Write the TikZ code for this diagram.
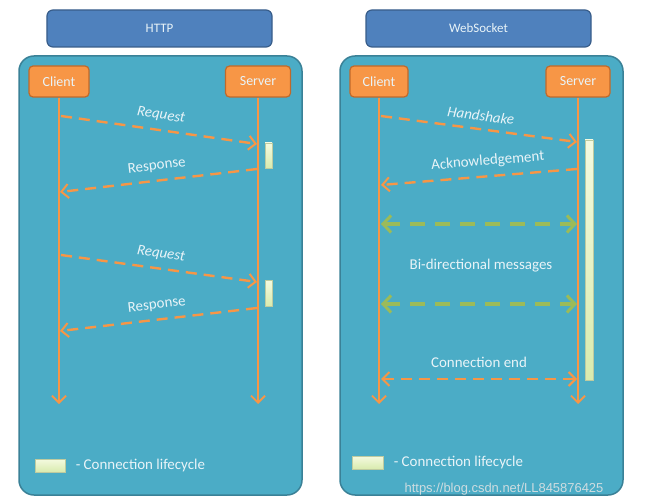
\documentclass[tikz,border=0pt]{standalone}
\usepackage{fontspec}
\setmainfont{Carlito}
\newfontfamily\markfont{Liberation Sans}
\usetikzlibrary{arrows.meta,positioning}
\definecolor{titleblue}{HTML}{4F81BD}
\definecolor{titleedge}{HTML}{385D8A}
\definecolor{panelteal}{HTML}{4BACC6}
\definecolor{paneledge}{HTML}{3A8197}
\definecolor{boxorange}{HTML}{F79646}
\definecolor{boxedge}{HTML}{C0692A}
\definecolor{msggreen}{HTML}{9BBB59}
\definecolor{barlight}{HTML}{F4FAE0}
\definecolor{bargreen}{HTML}{D9EBAE}
\definecolor{labeltext}{HTML}{E9F4F8}
\tikzset{
  barb/.tip={Straight Barb[length=7bp,width=14bp,line width=2bp]},
  bigbarb/.tip={Straight Barb[length=8bp,width=17bp,line width=3bp]},
  titlebox/.style={draw=titleedge, line width=1.2bp, fill=titleblue, rounded corners=6bp,
    minimum width=225bp, minimum height=37bp, text=labeltext, font=\fontsize{13}{15}\selectfont},
  panel/.style={draw=paneledge, line width=1.5bp, fill=panelteal, rounded corners=15bp},
  partybox/.style={draw=boxedge, line width=1.2bp, fill=boxorange, rounded corners=4bp,
    minimum height=31bp, inner xsep=2bp, text=labeltext, font=\fontsize{14}{16}\selectfont},
  lifeline/.style={boxorange, line width=1.8bp, -{Straight Barb[length=7bp,width=14bp,line width=1.8bp]}},
  msg/.style={boxorange, line width=2.4bp, dash pattern=on 11bp off 7bp, -barb},
  bothmsg/.style={msg, barb-barb},
  greenmsg/.style={msggreen, line width=3.4bp, dash pattern=on 15bp off 10bp, bigbarb-bigbarb},
  msglabel/.style={text=labeltext, font=\fontsize{15}{17}\selectfont},
  lifebar/.style={draw=bargreen!70!gray, line width=0.5bp, top color=barlight, bottom color=bargreen},
}
\begin{document}
\begin{tikzpicture}[x=1bp,y=-1bp]
\useasboundingbox (0,0) rectangle (654,504);

%HTTP side
\node[titlebox] (httptitle) at (159.5,28.5) {HTTP};
\draw[panel] (19,56) rectangle (302,495);
\node[partybox, minimum width=60bp] (hclient) at (59,81.5) {Client};
\node[partybox, minimum width=65bp] (hserver) at (258,81.5) {Server};
\coordinate (hclientend) at (59,404);
\coordinate (hserverend) at (258,404);
\draw[lifeline] (hclient.south) -- (hclientend);
\draw[lifeline] (hserver.south) -- (hserverend);

\coordinate (hreq1a) at (61,116);
\coordinate (hreq1b) at (257,144);
\coordinate (hres1a) at (257,169);
\coordinate (hres1b) at (60,192);
\coordinate (hreq2a) at (61,255);
\coordinate (hreq2b) at (257,282);
\coordinate (hres2a) at (257,308);
\coordinate (hres2b) at (60,331);
\draw[msg] (hreq1a) -- node[msglabel, midway, sloped, above=4bp] {\itshape Request} (hreq1b);
\draw[msg] (hres1a) -- node[msglabel, midway, sloped, above=4bp] {Response} (hres1b);
\draw[msg] (hreq2a) -- node[msglabel, midway, sloped, above=4bp] {\itshape Request} (hreq2b);
\draw[msg] (hres2a) -- node[msglabel, midway, sloped, above=4bp] {Response} (hres2b);
\draw[lifebar] (265,143) rectangle (272,168);
\draw[lifebar] (265,280) rectangle (272,306);

\node[lifebar, minimum width=30bp, minimum height=13bp, inner sep=0pt] (hkey) at (50,465.5) {};
\node[msglabel, right=7bp of hkey] (hkeytext) {- Connection lifecycle};

%WebSocket side
\node[titlebox] (wstitle) at (478.5,28.5) {WebSocket};
\draw[panel] (340,56) rectangle (623,495);
\node[partybox, minimum width=58bp] (wclient) at (379,81.5) {Client};
\node[partybox, minimum width=64bp] (wserver) at (578,81.5) {Server};
\coordinate (wclientend) at (379,404);
\coordinate (wserverend) at (578,404);
\draw[lifeline] (wclient.south) -- (wclientend);
\draw[lifeline] (wserver.south) -- (wserverend);

\coordinate (wshakea) at (381,116);
\coordinate (wshakeb) at (577,142);
\coordinate (wacka) at (577,169);
\coordinate (wackb) at (381,185);
\coordinate (wbi1a) at (381,224);
\coordinate (wbi1b) at (577,224);
\coordinate (wbi2a) at (381,304);
\coordinate (wbi2b) at (577,304);
\coordinate (wenda) at (381,379);
\coordinate (wendb) at (577,379);
\draw[lifebar] (585,140) rectangle (593,380);
\draw[msg] (wshakea) -- node[msglabel, midway, sloped, above=4bp] {\itshape Handshake} (wshakeb);
\draw[msg] (wacka) -- node[msglabel, midway, sloped, above=4bp, xshift=10bp] {Acknowledgement} (wackb);
\draw[greenmsg] (wbi1a) -- (wbi1b);
\draw[greenmsg] (wbi2a) -- (wbi2b);
\node[msglabel] (wbitext) at (481,266) {Bi-directional messages};
\draw[bothmsg] (wenda) -- node[msglabel, midway, above=7bp] {Connection end} (wendb);

\node[lifebar, minimum width=31bp, minimum height=13bp, inner sep=0pt] (wkey) at (367.5,462.5) {};
\node[msglabel, right=7bp of wkey] (wkeytext) {- Connection lifecycle};

\node[text=white!80!gray, font=\markfont\fontsize{13}{15}\selectfont, opacity=0.85] (mark) at (504,489) {https://blog.csdn.net/LL845876425};
\end{tikzpicture}
\end{document}
